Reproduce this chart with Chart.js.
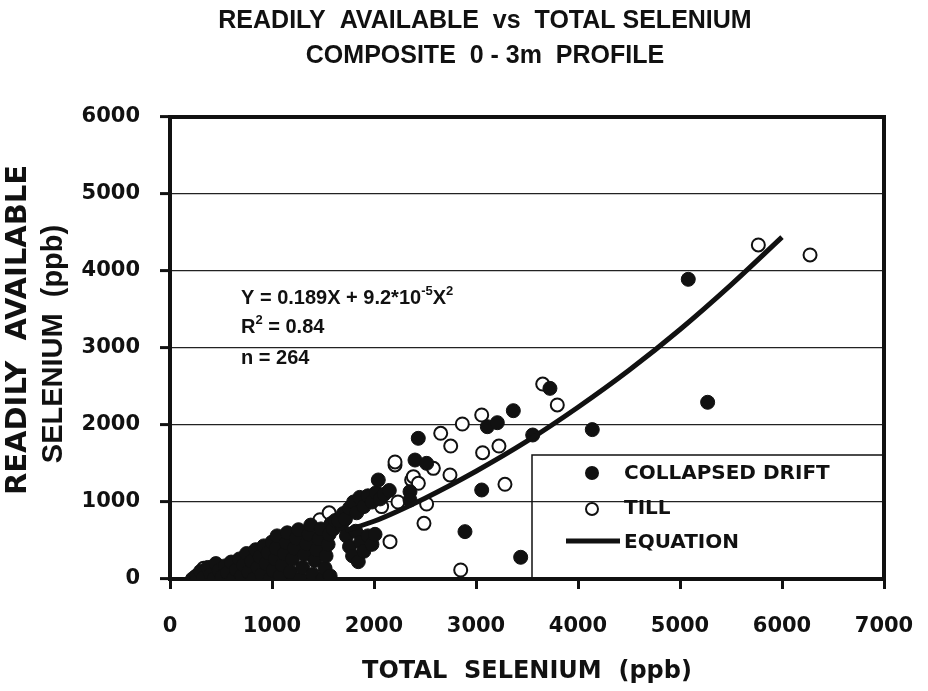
<!DOCTYPE html>
<html>
<head>
<meta charset="utf-8">
<script src="https://cdn.jsdelivr.net/npm/chart.js@4.4.0/dist/chart.umd.min.js"></script>
<style>
  html, body { margin: 0; padding: 0; background: #fff; }
</style>
</head>
<body>
<canvas id="seleniumChart" width="928" height="691"></canvas>
<script>
// collapsed drift samples (filled circles): total Se vs readily available Se, ppb
const driftTotal = [220, 260, 300, 330, 370, 400, 430, 450, 480, 510, 540, 560,
  600, 620, 650, 680, 700, 720, 750, 770, 800, 820, 840, 860, 880, 900, 920, 940, 960, 980, 1000, 1010, 1030, 1040, 1050,
  1080, 1100, 1120, 1140, 1150, 1180, 1200, 1220, 1240, 1260, 1280, 1300, 1320, 1340, 1360, 1380, 1400, 1420, 1440, 1460,
  1480, 1500, 1520, 1530, 1550, 1560, 1570, 1580,
  1600, 1620, 1680,
  1650, 1700, 1720, 1760, 1800, 1830, 1860, 1900, 1940, 1980, 2020, 2060, 2100, 2150, 2042,
  1730, 1760, 1790, 1820, 1846, 1870, 1900, 1940, 1980, 2010,
  2402, 2434, 2516, 2353, 2353, 2892, 3056, 3111, 3209, 3366, 3438, 3556, 3725, 4140, 5081, 5271];
const driftAvail = [0, 40, 100, 20, 150, 60, 0, 200, 110, 30, 170, 80,
  220, 0, 120, 260, 40, 180, 330, 90, 230, 0, 380, 150, 290, 60, 430, 200, 340, 0, 480, 110, 260, 400, 560,
  40, 180, 330, 470, 600, 90, 260, 400, 530, 640, 0, 150, 320, 460, 580, 700, 60, 240, 380, 520,
  650, 0, 140, 300, 450, 580, 40, 720,
  650, 760, 700,
  760, 850, 780, 920, 1000, 860, 1060, 940, 1080, 1000, 1120, 1040, 1100, 1150, 1286,
  560, 420, 300, 620, 225, 480, 360, 560, 450, 580,
  1545, 1827, 1502, 1134, 1026, 615, 1156, 1978, 2030, 2186, 282, 1870, 2476, 1940, 3892, 2295];

// till samples (open circles)
const tillTotal = [250, 330, 700, 1000, 1300, 1470, 1560, 2075, 2157, 2206, 2206, 2235, 2369, 2386,
  2435, 2490, 2516, 2582, 2654, 2745, 2752, 2850, 2866, 3056, 3065, 3225, 3284, 3654, 3797, 5768, 6275];
const tillAvail = [30, 140, 100, 300, 400, 770, 860, 940, 485, 1481, 1520, 1000, 1286, 1329,
  1243, 723, 974, 1437, 1892, 1351, 1727, 117, 2013, 2130, 1640, 1727, 1230, 2532, 2260, 4338, 4208];

// fitted equation line as drawn
const equationTotal = [1720, 2000, 2500, 3000, 3500, 4000, 4500, 5000, 5500, 6000];
const equationAvail = [630, 750, 1050, 1400, 1790, 2230, 2710, 3240, 3820, 4440];

const xTicks = [0, 1000, 2000, 3000, 4000, 5000, 6000, 7000];
const yTicks = [0, 1000, 2000, 3000, 4000, 5000, 6000];

const titleLines = ['READILY  AVAILABLE  vs  TOTAL SELENIUM', 'COMPOSITE  0 - 3m  PROFILE'];
const yTitleLines = ['READILY  AVAILABLE', 'SELENIUM  (ppb)'];

const INK = '#111';
const tickFont = { family: '"DejaVu Sans"', size: 21, weight: 'bold' };

function pairs(xs, ys) {
  return xs.map((x, i) => ({ x: x, y: ys[i] }));
}

// thick box round the plot
const framePlugin = {
  id: 'frame',
  beforeDatasetsDraw(chart) {
    const { ctx, chartArea: a } = chart;
    ctx.save();
    ctx.strokeStyle = INK;
    ctx.lineWidth = 4;
    ctx.strokeRect(a.left, a.top, a.right - a.left, a.bottom - a.top);
    ctx.restore();
  }
};

// titles, equation text and legend box
const notesPlugin = {
  id: 'notes',
  afterDraw(chart) {
    const ctx = chart.ctx;
    ctx.save();
    ctx.fillStyle = INK;
    ctx.textBaseline = 'middle';

    ctx.textAlign = 'center';
    ctx.font = 'bold 25px "Liberation Sans"';
    ctx.fillText(titleLines[0], 485, 21);
    ctx.fillText(titleLines[1], 485, 56);

    // y axis title, two lines turned upright
    ctx.save();
    ctx.translate(18, 330);
    ctx.rotate(-Math.PI / 2);
    ctx.font = 'bold 29px "DejaVu Sans"';
    ctx.fillText(yTitleLines[0], 0, 0);
    ctx.restore();
    ctx.save();
    ctx.translate(54, 344);
    ctx.rotate(-Math.PI / 2);
    ctx.font = 'bold 29px "Liberation Sans"';
    ctx.fillText(yTitleLines[1], 0, 0);
    ctx.restore();
    ctx.textAlign = 'left';

    const big = 'bold 20px "Liberation Sans"';
    const sup = 'bold 13px "Liberation Sans"';
    let x = 241;
    [['Y = 0.189X + 9.2*10', big, 0], ['-5', sup, -7], ['X', big, 0], ['2', sup, -7]].forEach(p => {
      ctx.font = p[1];
      ctx.fillText(p[0], x, 298 + p[2]);
      x += ctx.measureText(p[0]).width;
    });
    x = 241;
    [['R', big, 0], ['2', sup, -7], [' = 0.84', big, 0]].forEach(p => {
      ctx.font = p[1];
      ctx.fillText(p[0], x, 327 + p[2]);
      x += ctx.measureText(p[0]).width;
    });
    ctx.font = big;
    ctx.fillText('n = 264', 241, 358);

    // legend
    const a = chart.chartArea;
    ctx.strokeStyle = INK;
    ctx.lineWidth = 1.5;
    ctx.strokeRect(532, 455, a.right - 532, a.bottom - 455);
    ctx.font = 'bold 20px "DejaVu Sans"';
    ctx.beginPath();
    ctx.arc(592, 473, 7, 0, Math.PI * 2);
    ctx.fill();
    ctx.fillText('COLLAPSED DRIFT', 624, 474);
    ctx.beginPath();
    ctx.arc(592, 509, 6, 0, Math.PI * 2);
    ctx.lineWidth = 2;
    ctx.stroke();
    ctx.fillText('TILL', 624, 509);
    ctx.beginPath();
    ctx.lineWidth = 5;
    ctx.moveTo(566, 541);
    ctx.lineTo(620, 541);
    ctx.stroke();
    ctx.fillText('EQUATION', 624, 543);
    ctx.restore();
  }
};

new Chart(document.getElementById('seleniumChart'), {
  type: 'scatter',
  data: {
    datasets: [
      {
        label: 'EQUATION',
        data: pairs(equationTotal, equationAvail),
        showLine: true,
        borderColor: INK,
        borderWidth: 5,
        pointRadius: 0,
        cubicInterpolationMode: 'monotone',
        order: 0
      },
      {
        label: 'COLLAPSED DRIFT',
        data: pairs(driftTotal, driftAvail),
        pointRadius: 7,
        pointBackgroundColor: INK,
        pointBorderColor: INK,
        pointBorderWidth: 1,
        order: 1
      },
      {
        label: 'TILL',
        data: pairs(tillTotal, tillAvail),
        pointRadius: 6.5,
        pointBackgroundColor: '#fff',
        pointBorderColor: INK,
        pointBorderWidth: 2,
        order: 2
      }
    ]
  },
  options: {
    responsive: false,
    animation: false,
    devicePixelRatio: 1,
    layout: { padding: { left: 0, right: 44, top: 117, bottom: 0 } },
    plugins: {
      legend: { display: false },
      tooltip: { enabled: false },
      title: { display: false }
    },
    scales: {
      x: {
        type: 'linear',
        min: 0,
        max: 7000,
        afterBuildTicks: s => { s.ticks = xTicks.map(v => ({ value: v })); },
        afterFit: s => { s.height = 112; s.paddingLeft = 0; s.paddingRight = 0; },
        ticks: { color: INK, font: tickFont, padding: 25, maxRotation: 0, callback: v => String(v) },
        grid: { drawOnChartArea: false, drawTicks: true, tickLength: 10, tickWidth: 3, tickColor: INK },
        border: { display: true, width: 4, color: INK },
        title: {
          display: true,
          text: 'TOTAL  SELENIUM  (ppb)',
          color: INK,
          font: { family: '"DejaVu Sans"', size: 24, weight: 'bold' },
          padding: { top: 0, bottom: 5 }
        }
      },
      y: {
        min: 0,
        max: 6000,
        afterBuildTicks: s => { s.ticks = yTicks.map(v => ({ value: v })); },
        afterFit: s => { s.width = 170; },
        ticks: { color: INK, font: tickFont, padding: 20, callback: v => String(v) },
        grid: { color: '#222', lineWidth: 1.2, drawTicks: true, tickLength: 10, tickWidth: 3, tickColor: INK },
        border: { display: true, width: 4, color: INK },
        title: { display: false }
      }
    }
  },
  plugins: [framePlugin, notesPlugin]
});
</script>
</body>
</html>
